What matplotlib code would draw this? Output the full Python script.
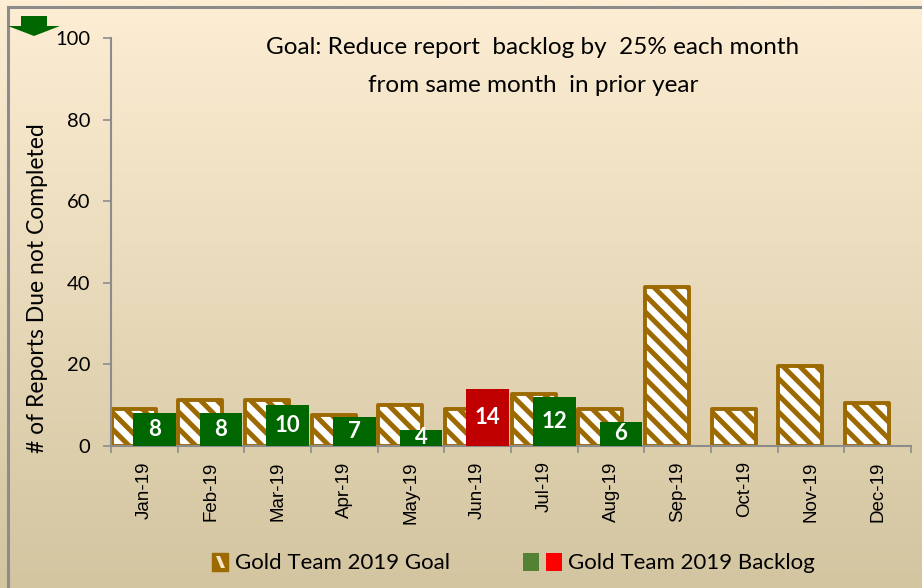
import numpy as np
import matplotlib
matplotlib.use("Agg")
import matplotlib.pyplot as plt
from matplotlib.patches import Rectangle, Polygon

months = ["Jan-19", "Feb-19", "Mar-19", "Apr-19", "May-19", "Jun-19",
          "Jul-19", "Aug-19", "Sep-19", "Oct-19", "Nov-19", "Dec-19"]
goal = [9, 11.25, 11.25, 7.5, 10, 9, 12.75, 9, 39, 9, 19.5, 10.5]
backlog = [8, 8, 10, 7, 4, 14, 12, 6]
yticks = [0, 20, 40, 60, 80, 100]
legend_labels = ["Gold Team 2019 Goal", "Gold Team 2019 Backlog"]

GOLD = "#9C6A00"
GREEN = "#006600"
RED = "#C00000"
CAL = ["Lato", "DejaVu Sans"]

plt.rcParams["hatch.linewidth"] = 3.6
plt.rcParams["hatch.color"] = GOLD

W, H = 922, 588
fig = plt.figure(figsize=(W / 100, H / 100), dpi=100)


def fx(px):
    return px / W


def fy(py):
    return 1 - py / H


# background gradient
bg = fig.add_axes([0, 0, 1, 1], zorder=-10)
top = np.array([0xFD, 0xEE, 0xD4]) / 255
bot = np.array([0xD3, 0xC5, 0xA0]) / 255
t = np.linspace(0, 1, 256)[:, None]
grad = top[None, :] * (1 - t) + bot[None, :] * t
bg.imshow(grad[:, None, :], aspect="auto", extent=[0, 1, 0, 1])
bg.set_xlim(0, 1)
bg.set_ylim(0, 1)
bg.axis("off")
bg.add_patch(Rectangle((fx(7.5), -0.1), 1.2, fy(7.5) + 0.1, fill=False,
                       edgecolor="#8C8C8C", linewidth=2.2))
# green arrow
bg.add_patch(Polygon([(fx(21), fy(16)), (fx(47), fy(16)), (fx(47), fy(26)),
                      (fx(60), fy(26)), (fx(34), fy(36)), (fx(8), fy(26)),
                      (fx(21), fy(26))], closed=True, facecolor=GREEN,
                     edgecolor="none"))

# legend (manual)
bg.add_patch(Rectangle((fx(212), fy(571)), fx(16), 18 / H, facecolor=GOLD,
                       edgecolor=GOLD, linewidth=1))
bg.add_patch(Polygon([(fx(216), fy(556)), (fx(220), fy(556)), (fx(225), fy(568)),
                      (fx(221), fy(568))], closed=True, facecolor="#F5E6C8",
                     edgecolor="none"))
bg.add_patch(Rectangle((fx(523), fy(571)), fx(16), 18 / H, facecolor="#548235",
                       edgecolor="none"))
bg.add_patch(Rectangle((fx(546), fy(571)), fx(16), 18 / H, facecolor="#FF0000",
                       edgecolor="none"))
fig.text(fx(235), fy(563), legend_labels[0], ha="left", va="center",
         family=CAL, fontsize=16)
fig.text(fx(568), fy(563), legend_labels[1], ha="left", va="center",
         family=CAL, fontsize=16)

ax = fig.add_axes([fx(111), fy(446), (911 - 111) / W, (446 - 38) / H])
ax.patch.set_alpha(0)

x = np.arange(len(months))
ax.bar(x - 0.16, goal, width=0.66, facecolor="white", edgecolor=GOLD,
       linewidth=2.8, hatch="\\\\", zorder=2, joinstyle="round")
bcolors = [RED if b > g else GREEN for b, g in zip(backlog, goal)]
xb = np.arange(len(backlog))
ax.bar(xb + 0.15, backlog, width=0.64, color=bcolors, zorder=3)
for xi, v in zip(xb, backlog):
    ax.text(xi + 0.15, v / 2, str(v), ha="center", va="center", color="white",
            fontsize=16, fontweight="bold", family=CAL, zorder=4)

ax.set_xlim(-0.5, 11.5)
ax.set_ylim(0, 100)
ax.set_yticks(yticks)
ax.set_yticklabels([str(v) for v in yticks], family=CAL, fontsize=14.5)
ax.set_xticks(x)
ax.set_xticklabels(months, rotation=90, family="Liberation Sans", fontsize=13.5)
ax.set_xticks(np.arange(-0.5, 12, 1), minor=True)
ax.tick_params(axis="x", which="major", length=0, pad=11)
ax.tick_params(axis="x", which="minor", length=5, color="#8C8C8C", width=1.2)
ax.tick_params(axis="y", length=6, color="#8C8C8C", width=1.2, pad=9)
for s in ["top", "right"]:
    ax.spines[s].set_visible(False)
for s in ["left", "bottom"]:
    ax.spines[s].set_color("#8C8C8C")
    ax.spines[s].set_linewidth(1.5)

fig.text(fx(37), fy(288), "# of Reports Due not Completed", rotation=90,
         ha="center", va="center", family=CAL, fontsize=16.5)

fig.text(fx(533), fy(48), "Goal: Reduce report  backlog by  25% each month",
         ha="center", va="center", family=CAL, fontsize=17.5)
fig.text(fx(533), fy(85), "from same month  in prior year",
         ha="center", va="center", family=CAL, fontsize=17.5)

fig.savefig("out.png", dpi=100)
